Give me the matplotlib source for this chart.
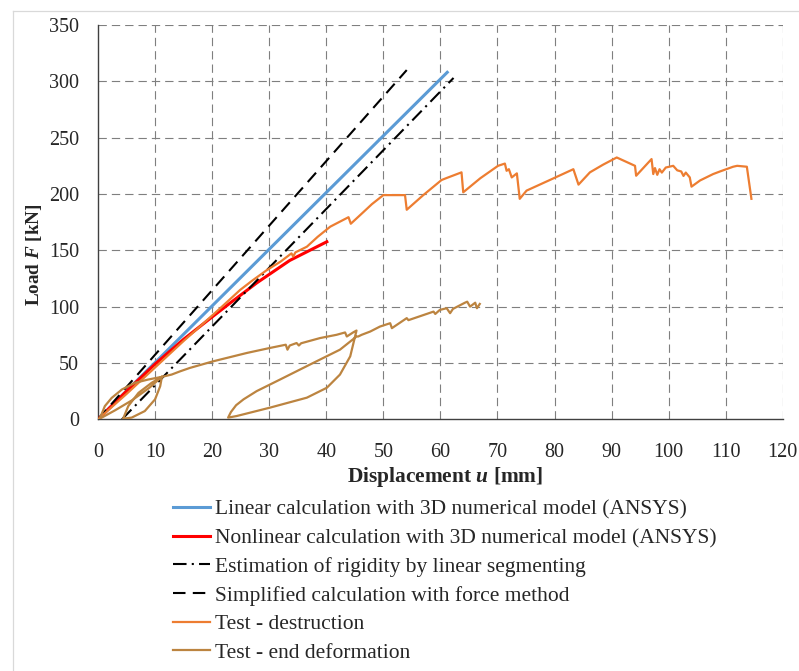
import matplotlib
matplotlib.use("Agg")
import matplotlib.pyplot as plt
from matplotlib.lines import Line2D

plt.rcParams["font.family"] = ["Liberation Serif", "DejaVu Serif"]
plt.rcParams["mathtext.fontset"] = "custom"
plt.rcParams["mathtext.rm"] = "Liberation Serif"
plt.rcParams["mathtext.it"] = "Liberation Serif:italic"
plt.rcParams["mathtext.bf"] = "Liberation Serif:bold"
plt.rcParams["mathtext.bfit"] = "Liberation Serif:italic:bold"

# --- series (displacement u [mm], load F [kN]) ---
lin_u = [0.0, 61.2]
lin_F = [0.0, 308.0]

nonlin_u = [0, 5, 10, 15, 19.4, 23.1, 27.8, 33.6, 40.1]
nonlin_F = [0, 25, 49, 71, 88.5, 103, 121, 141, 157.6]

segm_u = [4.2, 62.3]
segm_F = [0.0, 303.0]

force_u = [0.0, 54.1]
force_F = [0.0, 310.0]

destr_u = [0, 5, 10, 15, 18, 21.4, 24.9, 27, 29.6, 32, 33.9, 34.2, 34.6, 36.6, 38.5,
           40.7, 43.9, 44.3, 46.5, 48, 50, 53.8, 54.1, 57, 60.2, 61.1, 63.7, 64.0, 67,
           70.1, 71.3, 71.6, 72.0, 72.5, 73.4, 73.9, 75.1, 79, 83.3, 84.2, 86.2, 88.5,
           90.9, 94.1, 94.3, 97.0, 97.3, 97.6, 98.0, 98.4, 98.8, 99.5, 100.8, 101.5,
           102.2, 102.6, 103.0, 103.7, 104.0, 105.5, 107.8, 109, 111.3, 112, 113.7, 114.5]
destr_F = [0, 22.5, 46, 69.5, 83, 98.5, 114.8, 123, 132.5, 140, 147.3, 144.5, 148.2,
           153.2, 162, 171, 179.4, 173.6, 183.9, 191, 199, 199, 186, 199, 212.4, 214.2,
           219.2, 201.5, 214, 225, 227, 220.6, 222, 214.7, 218.3, 195.7, 203, 212, 222,
           208.3, 219.2, 226, 232.4, 225, 216.2, 231, 217.7, 223, 217, 222, 219, 223.5,
           225, 221, 220, 216, 219, 214.7, 206.5, 212, 217.7, 220, 224.2, 225, 224.2, 195.7]

end_u = [11.2, 9, 6, 3, 0.3,
         1.2, 2.4, 4.2, 6.5, 8.8, 11.2,
         10.9, 10.0, 8.2, 5.9, 4.4,
         5.3, 7.1, 9.4, 11.2,
         12.9, 14.4, 16.1, 20.2, 24.9, 26.1, 30.1, 32.9, 33.2, 33.6, 34.8, 35.2, 35.6,
         38.9, 41.8, 43.3, 43.6, 44.7, 45.3,
         44.2, 42.4, 40.1, 36.6, 30.1, 24.3, 22.8,
         23.3, 24.2, 25.5, 27.8, 31.9, 37.7, 42.4, 45.3, 45.6,
         46.2, 47.7, 49.4, 51.2, 51.5, 54.1, 54.4, 58.8, 59.1, 59.9, 61.1, 61.7, 62.2,
         64.3, 64.7, 65.2, 66.1, 66.4, 66.9]
end_F = [37.7, 28, 17, 8, 0.5,
         11.7, 19, 26.5, 32.4, 35.3, 37.7,
         29.4, 17.7, 7.3, 1.5, 0.5,
         11.7, 23.5, 32.4, 37.7,
         39.7, 42.6, 45.6, 51.5, 57.4, 58.9, 63.3, 66.2, 61.8, 65.5, 67.7, 65.5, 67.5,
         72.1, 75, 77.1, 73.5, 77.1, 78.8,
         55.9, 39.7, 28, 19.2, 10.3, 2.9, 1.5,
         6.5, 12.5, 17.7, 25, 35.3, 50, 61.8, 73.5, 73.5,
         75, 77.9, 82.3, 85.3, 80.9, 89.8, 88, 95.6, 93.5, 97.1, 98.6, 94.2, 98,
         103.5, 104.4, 100, 103.5, 98.6, 102.4]

labels = [
    "Linear calculation with 3D numerical model (ANSYS)",
    "Nonlinear calculation with 3D numerical model (ANSYS)",
    "Estimation of rigidity by linear segmenting",
    "Simplified calculation with force method",
    "Test - destruction",
    "Test - end deformation",
]
x_ticks = list(range(0, 121, 10))
y_ticks = list(range(0, 351, 50))

W, H = 799, 671
fig = plt.figure(figsize=(W / 100, H / 100), dpi=100)
ax = fig.add_axes([98 / W, 1 - 419.3 / H, 684.8 / W, 394.3 / H])

grid_ls = (0, (7.5, 4.5))
for xv in x_ticks[1:]:
    ax.axvline(xv, color="#7f7f7f", lw=0.8, ls=grid_ls, zorder=0)
for yv in y_ticks[1:]:
    ax.axhline(yv, color="#7f7f7f", lw=0.8, ls=grid_ls, zorder=0)

styles = [
    dict(color="#5b9bd5", lw=2.2, ls="-"),
    dict(color="#ff0000", lw=2.2, ls="-"),
    dict(color="black", lw=1.5, ls=(0, (6.5, 2.5, 1, 2.5))),
    dict(color="black", lw=1.5, ls=(0, (6, 3.5))),
    dict(color="#ed7d31", lw=1.6, ls="-"),
    dict(color="#bc8440", lw=1.6, ls="-"),
]
series = [(lin_u, lin_F), (nonlin_u, nonlin_F), (segm_u, segm_F),
          (force_u, force_F), (destr_u, destr_F), (end_u, end_F)]
for k, ((u, F), st) in enumerate(zip(series, styles)):
    ax.plot(u, F, solid_joinstyle="round", zorder=2 + k, **st)

ax.set_xlim(0, 120)
ax.set_ylim(0, 350)
ax.set_xticks(x_ticks)
ax.set_yticks(y_ticks)
ax.tick_params(length=0, labelsize=14.5, colors="#262626")
ax.tick_params(axis="x", pad=17)
ax.tick_params(axis="y", pad=13.7)
for s in ("top", "right"):
    ax.spines[s].set_visible(False)
for s in ("left", "bottom"):
    ax.spines[s].set_color("#404040")
    ax.spines[s].set_linewidth(1.0)

fig.text(445.5 / W, 1 - 482 / H, r"Displacement $\mathbfit{u}$ [mm]", ha="center",
         va="baseline", fontsize=15.4, fontweight="bold", color="#262626")
fig.text(34 / W, 1 - 254.5 / H, r"Load $\mathbfit{F}$ [kN]", ha="center", va="center",
         rotation=90, fontsize=13.8, fontweight="bold", color="#262626")

handles = [Line2D([], [], **st) for st in styles]
fig.legend(handles, labels, loc="upper left", bbox_to_anchor=(173 / W, 1 - 499.5 / H),
           frameon=False, fontsize=15.5, handlelength=1.72, handletextpad=0.25,
           borderpad=0, borderaxespad=0, labelspacing=0.4, labelcolor="#262626")

# chart-area frame (left and top edges)
fig.add_artist(Line2D([13 / W, 13 / W], [0, 1 - 11 / H], color="#d9d9d9", lw=0.9))
fig.add_artist(Line2D([13 / W, 1], [1 - 11 / H, 1 - 11 / H], color="#d9d9d9", lw=0.9))

fig.savefig("out.png", dpi=100)
